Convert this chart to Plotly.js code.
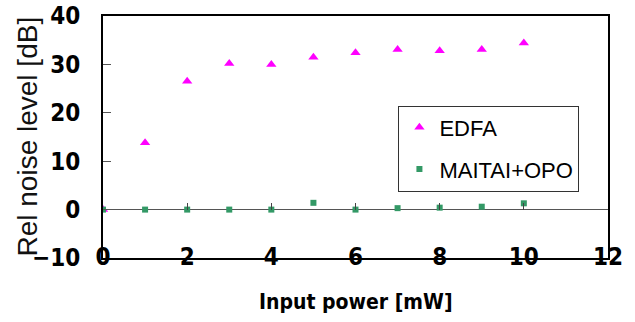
<!DOCTYPE html>
<html><head><meta charset="utf-8">
<script src="https://cdn.plot.ly/plotly-3.0.1.min.js"></script>
<style>html,body{margin:0;padding:0;background:#fff}#c{width:635px;height:322px}</style>
</head><body><div id="c"></div>
<script>
const inputPower = [0, 1, 2, 3, 4, 5, 6, 7, 8, 9, 10];
const edfa = [0, 13.8, 26.5, 30.2, 30.0, 31.5, 32.4, 33.1, 32.8, 33.1, 34.4];
const maitaiOpo = [0, 0, 0, 0, 0, 1.4, 0, 0.3, 0.4, 0.6, 1.3];
const seriesNames = ['EDFA', 'MAITAI+OPO'];
const xTitle = 'Input power [mW]';
const yTitle = 'Rel noise level [dB]';

const condFont = '"DejaVu Sans Condensed", sans-serif';
const tickFont = {family: condFont, size: 24, color: '#000', weight: 'bold'};

const traces = [
  {x: inputPower, y: edfa, name: seriesNames[0], type: 'scatter', mode: 'markers', legendgroup: 'a',
   marker: {symbol: 'triangle-up', size: 9, color: '#FF00FF'}, xaxis: 'x', yaxis: 'y'},
  {x: inputPower, y: maitaiOpo, name: seriesNames[1], type: 'scatter', mode: 'markers', legendgroup: 'b',
   marker: {symbol: 'square', size: 6, color: '#339966'}, xaxis: 'x2', yaxis: 'y'}
];

const layout = {
  width: 635, height: 322,
  margin: {l: 103, r: 27, t: 16, b: 64},
  paper_bgcolor: '#fff', plot_bgcolor: '#fff',
  showlegend: true,
  legend: {x: 0.585, y: 0.63, xanchor: 'left', yanchor: 'top',
    bordercolor: '#333', borderwidth: 1, bgcolor: '#fff',
    font: {family: '"Liberation Sans", Arial, sans-serif', size: 22, color: '#000'},
    itemsizing: 'trace', tracegroupgap: 10},
  xaxis: {range: [0, 12], dtick: 2, tick0: 0, showgrid: false, zeroline: false,
    showline: true, linecolor: '#000', linewidth: 2, mirror: true,
    ticks: '', ticklabelstandoff: -24, tickfont: tickFont},
  xaxis2: {range: [0, 12], dtick: 2, tick0: 0, overlaying: 'x', anchor: 'free', position: 0.2,
    side: 'bottom', showgrid: false, zeroline: false, showline: false,
    ticks: 'inside', ticklen: 7, tickcolor: '#444', showticklabels: false},
  yaxis: {range: [-10, 40], dtick: 10, tick0: 0, showgrid: false,
    zeroline: true, zerolinecolor: '#555', zerolinewidth: 1,
    showline: true, linecolor: '#000', linewidth: 2, mirror: true,
    ticks: 'inside', ticklen: 8, tickcolor: '#555', ticklabelstandoff: 16, tickfont: tickFont},
  annotations: [
    {text: xTitle, xref: 'paper', yref: 'paper', x: 0.5, y: -0.182, xanchor: 'center', yanchor: 'middle',
     showarrow: false, font: {family: condFont, size: 21, color: '#000', weight: 'bold'}},
    {text: yTitle, xref: 'paper', yref: 'paper', x: -0.1485, y: 0.502, xanchor: 'center', yanchor: 'middle',
     textangle: -90, showarrow: false, font: {family: '"Liberation Sans", Arial, sans-serif', size: 28, color: '#111'}}
  ]
};

Plotly.newPlot('c', traces, layout, {staticPlot: true, displayModeBar: false});
</script></body></html>
